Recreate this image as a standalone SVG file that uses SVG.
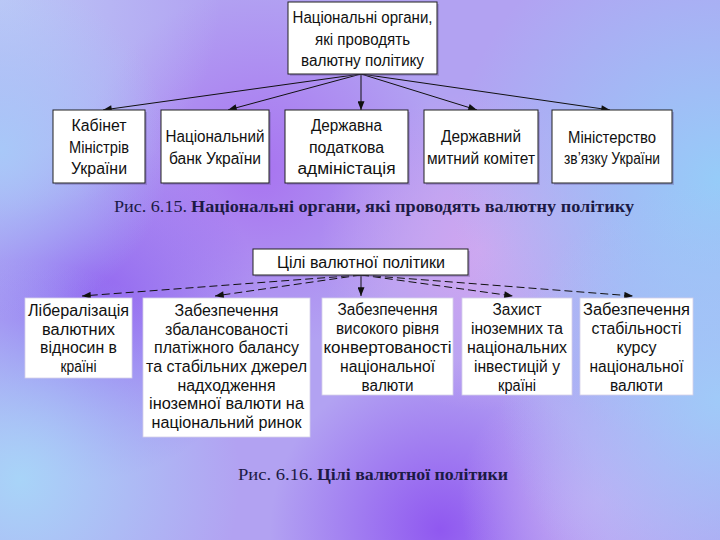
<svg xmlns="http://www.w3.org/2000/svg" width="720" height="540" viewBox="0 0 720 540">
<defs>
<style>
.box{fill:#ffffff;stroke:#222;stroke-width:1}
.box2{fill:#ffffff;stroke:#d4d0e8;stroke-width:0.8}
.sh{fill:#6a5a9a;opacity:0.35}
.t{font-family:"Liberation Sans",Arial,sans-serif;font-size:16px;fill:#111;text-anchor:middle}
.cap{font-family:"Liberation Serif","Times New Roman",serif;font-size:16px;fill:#1c1a44}
.b{font-weight:bold}
.ln{fill:none;stroke:#111;stroke-width:1}
.dash{stroke-dasharray:8 4}
</style>
<marker id="ah" viewBox="0 0 10 8" refX="10" refY="4" markerWidth="10" markerHeight="7" markerUnits="userSpaceOnUse" orient="auto">
<path d="M0,0 L10,4 L0,8 Z" fill="#111"/>
</marker>
<radialGradient id="g1" cx="0" cy="0" r="220" gradientUnits="userSpaceOnUse"><stop offset="0" stop-color="#bcc8f6"/><stop offset="1" stop-color="#bcc8f6" stop-opacity="0"/></radialGradient>
<radialGradient id="g2" cx="0" cy="150" r="170" gradientUnits="userSpaceOnUse"><stop offset="0" stop-color="#a8c8f8"/><stop offset="1" stop-color="#a8c8f8" stop-opacity="0"/></radialGradient>
<radialGradient id="g3" cx="720" cy="180" r="270" gradientUnits="userSpaceOnUse"><stop offset="0" stop-color="#96ccf8"/><stop offset="1" stop-color="#96ccf8" stop-opacity="0"/></radialGradient>
<radialGradient id="g4" cx="720" cy="400" r="220" gradientUnits="userSpaceOnUse"><stop offset="0" stop-color="#a0caf8"/><stop offset="1" stop-color="#a0caf8" stop-opacity="0"/></radialGradient>
<radialGradient id="g5" cx="20" cy="480" r="220" gradientUnits="userSpaceOnUse"><stop offset="0" stop-color="#a8d4f8"/><stop offset="1" stop-color="#a8d4f8" stop-opacity="0"/></radialGradient>
<radialGradient id="p1" cx="260" cy="170" r="180" gradientUnits="userSpaceOnUse"><stop offset="0" stop-color="#a874f0"/><stop offset="1" stop-color="#a874f0" stop-opacity="0"/></radialGradient>
<radialGradient id="p2" cx="90" cy="310" r="170" gradientUnits="userSpaceOnUse"><stop offset="0" stop-color="#9060f0"/><stop offset="1" stop-color="#9060f0" stop-opacity="0"/></radialGradient>
<radialGradient id="p3" cx="440" cy="530" r="170" gradientUnits="userSpaceOnUse"><stop offset="0" stop-color="#9058f0"/><stop offset="1" stop-color="#9058f0" stop-opacity="0"/></radialGradient>
<radialGradient id="p4" cx="480" cy="250" r="160" gradientUnits="userSpaceOnUse"><stop offset="0" stop-color="#d0a6f0"/><stop offset="1" stop-color="#d0a6f0" stop-opacity="0"/></radialGradient>
<radialGradient id="p5" cx="600" cy="500" r="140" gradientUnits="userSpaceOnUse"><stop offset="0" stop-color="#c4a8f4"/><stop offset="1" stop-color="#c4a8f4" stop-opacity="0"/></radialGradient>
</defs>

<g id="background">
<rect width="720" height="540" fill="#b2a2f2"/>
<rect width="720" height="540" fill="url(#p1)"/>
<rect width="720" height="540" fill="url(#p2)"/>
<rect width="720" height="540" fill="url(#p3)"/>
<rect width="720" height="540" fill="url(#p4)"/>
<rect width="720" height="540" fill="url(#p5)"/>
<rect width="720" height="540" fill="url(#g1)"/>
<rect width="720" height="540" fill="url(#g2)"/>
<rect width="720" height="540" fill="url(#g3)"/>
<rect width="720" height="540" fill="url(#g4)"/>
<rect width="720" height="540" fill="url(#g5)"/>
</g>

<g id="connectors">
<line class="ln" x1="361" y1="74" x2="103" y2="110" marker-end="url(#ah)"/>
<line class="ln" x1="361" y1="74" x2="228" y2="110" marker-end="url(#ah)"/>
<line class="ln" x1="361" y1="74" x2="361" y2="110" marker-end="url(#ah)"/>
<line class="ln" x1="361" y1="74" x2="477" y2="110" marker-end="url(#ah)"/>
<line class="ln" x1="361" y1="74" x2="610" y2="110" marker-end="url(#ah)"/>
<line class="ln dash" x1="361" y1="275" x2="82" y2="296" marker-end="url(#ah)"/>
<line class="ln dash" x1="361" y1="275" x2="215" y2="296" marker-end="url(#ah)"/>
<line class="ln" x1="361" y1="275" x2="361" y2="296" marker-end="url(#ah)"/>
<line class="ln dash" x1="361" y1="275" x2="513" y2="296" marker-end="url(#ah)"/>
<line class="ln dash" x1="361" y1="275" x2="633" y2="296" marker-end="url(#ah)"/>
</g>

<g id="n-top">
<rect class="sh" x="290" y="4" width="149" height="72"/>
<rect class="box" x="288" y="2" width="149" height="72"/>
<text class="t" x="362.5" y="23" textLength="140" lengthAdjust="spacingAndGlyphs">Національні органи,</text>
<text class="t" x="362.5" y="45" textLength="95" lengthAdjust="spacingAndGlyphs">які проводять</text>
<text class="t" x="362.5" y="66" textLength="123" lengthAdjust="spacingAndGlyphs">валютну політику</text>
</g>

<g id="n-kabinet">
<rect class="sh" x="55" y="112" width="92" height="73"/>
<rect class="box" x="53" y="110" width="92" height="73"/>
<text class="t" x="99" y="131" textLength="55" lengthAdjust="spacingAndGlyphs">Кабінет</text>
<text class="t" x="99" y="152.5" textLength="60" lengthAdjust="spacingAndGlyphs">Міністрів</text>
<text class="t" x="99" y="174" textLength="56" lengthAdjust="spacingAndGlyphs">України</text>
</g>

<g id="n-nbu">
<rect class="sh" x="163" y="112" width="108" height="73"/>
<rect class="box" x="161" y="110" width="108" height="73"/>
<text class="t" x="215" y="142" textLength="99" lengthAdjust="spacingAndGlyphs">Національний</text>
<text class="t" x="215" y="163.5" textLength="92" lengthAdjust="spacingAndGlyphs">банк України</text>
</g>

<g id="n-dpa">
<rect class="sh" x="287" y="112" width="123" height="73"/>
<rect class="box" x="285" y="110" width="123" height="73"/>
<text class="t" x="346.5" y="131" textLength="71" lengthAdjust="spacingAndGlyphs">Державна</text>
<text class="t" x="346.5" y="152.5" textLength="75" lengthAdjust="spacingAndGlyphs">податкова</text>
<text class="t" x="346.5" y="174" textLength="98" lengthAdjust="spacingAndGlyphs">адміністація</text>
</g>

<g id="n-dmk">
<rect class="sh" x="426" y="112" width="114" height="73"/>
<rect class="box" x="424" y="110" width="114" height="73"/>
<text class="t" x="481" y="142" textLength="80" lengthAdjust="spacingAndGlyphs">Державний</text>
<text class="t" x="481" y="163.5" textLength="108" lengthAdjust="spacingAndGlyphs">митний комітет</text>
</g>

<g id="n-minzv">
<rect class="sh" x="554" y="112" width="120" height="73"/>
<rect class="box" x="552" y="110" width="120" height="73"/>
<text class="t" x="612" y="142.5" textLength="88" lengthAdjust="spacingAndGlyphs">Міністерство</text>
<text class="t" x="612" y="164" textLength="96" lengthAdjust="spacingAndGlyphs">зв’язку України</text>
</g>

<g id="caption-1">
<text class="cap" x="114" y="212" textLength="73" lengthAdjust="spacingAndGlyphs">Рис. 6.15.</text>
<text class="cap b" x="191" y="212" textLength="443" lengthAdjust="spacingAndGlyphs">Національні органи, які проводять валютну політику</text>
</g>

<g id="n-goals">
<rect class="sh" x="255" y="251" width="215" height="26"/>
<rect class="box" x="253" y="249" width="215" height="26"/>
<text class="t" x="361" y="267.5" textLength="168" lengthAdjust="spacingAndGlyphs">Цілі валютної політики</text>
</g>

<g id="n-lib">
<rect class="box2" x="25" y="298" width="107" height="80"/>
<text class="t" x="78.5" y="316" textLength="101" lengthAdjust="spacingAndGlyphs">Лібералізація</text>
<text class="t" x="78.5" y="334.7" textLength="73" lengthAdjust="spacingAndGlyphs">валютних</text>
<text class="t" x="78.5" y="353.4" textLength="77" lengthAdjust="spacingAndGlyphs">відносин в</text>
<text class="t" x="78.5" y="372" textLength="36" lengthAdjust="spacingAndGlyphs">країні</text>
</g>

<g id="n-balance">
<rect class="box2" x="143" y="298" width="167" height="139"/>
<text class="t" x="226.5" y="316" textLength="104" lengthAdjust="spacingAndGlyphs">Забезпечення</text>
<text class="t" x="226.5" y="334.7" textLength="123" lengthAdjust="spacingAndGlyphs">збалансованості</text>
<text class="t" x="226.5" y="353.4" textLength="145" lengthAdjust="spacingAndGlyphs">платіжного балансу</text>
<text class="t" x="226.5" y="372" textLength="161" lengthAdjust="spacingAndGlyphs">та стабільних джерел</text>
<text class="t" x="226.5" y="390.7" textLength="98" lengthAdjust="spacingAndGlyphs">надходження</text>
<text class="t" x="226.5" y="409.4" textLength="155" lengthAdjust="spacingAndGlyphs">іноземної валюти на</text>
<text class="t" x="226.5" y="428" textLength="150" lengthAdjust="spacingAndGlyphs">національний ринок</text>
</g>

<g id="n-convert">
<rect class="box2" x="322" y="298" width="131" height="97"/>
<text class="t" x="387.5" y="315" textLength="100" lengthAdjust="spacingAndGlyphs">Забезпечення</text>
<text class="t" x="387.5" y="334" textLength="103" lengthAdjust="spacingAndGlyphs">високого рівня</text>
<text class="t" x="387.5" y="353" textLength="128" lengthAdjust="spacingAndGlyphs">конвертованості</text>
<text class="t" x="387.5" y="372" textLength="95" lengthAdjust="spacingAndGlyphs">національної</text>
<text class="t" x="387.5" y="391" textLength="52" lengthAdjust="spacingAndGlyphs">валюти</text>
</g>

<g id="n-protect">
<rect class="box2" x="462" y="298" width="110" height="97"/>
<text class="t" x="517" y="315" textLength="49" lengthAdjust="spacingAndGlyphs">Захист</text>
<text class="t" x="517" y="334" textLength="92" lengthAdjust="spacingAndGlyphs">іноземних та</text>
<text class="t" x="517" y="353" textLength="100" lengthAdjust="spacingAndGlyphs">національних</text>
<text class="t" x="517" y="372" textLength="86" lengthAdjust="spacingAndGlyphs">інвестицій у</text>
<text class="t" x="517" y="391" textLength="38" lengthAdjust="spacingAndGlyphs">країні</text>
</g>

<g id="n-stable">
<rect class="box2" x="580" y="298" width="113" height="97"/>
<text class="t" x="636.5" y="315" textLength="107" lengthAdjust="spacingAndGlyphs">Забезпечення</text>
<text class="t" x="636.5" y="334" textLength="90" lengthAdjust="spacingAndGlyphs">стабільності</text>
<text class="t" x="636.5" y="353" textLength="40" lengthAdjust="spacingAndGlyphs">курсу</text>
<text class="t" x="636.5" y="372" textLength="94" lengthAdjust="spacingAndGlyphs">національної</text>
<text class="t" x="636.5" y="391" textLength="53" lengthAdjust="spacingAndGlyphs">валюти</text>
</g>

<g id="caption-2">
<text class="cap" x="238" y="480" textLength="75" lengthAdjust="spacingAndGlyphs">Рис. 6.16.</text>
<text class="cap b" x="317" y="480" textLength="191" lengthAdjust="spacingAndGlyphs">Цілі валютної політики</text>
</g>
</svg>
